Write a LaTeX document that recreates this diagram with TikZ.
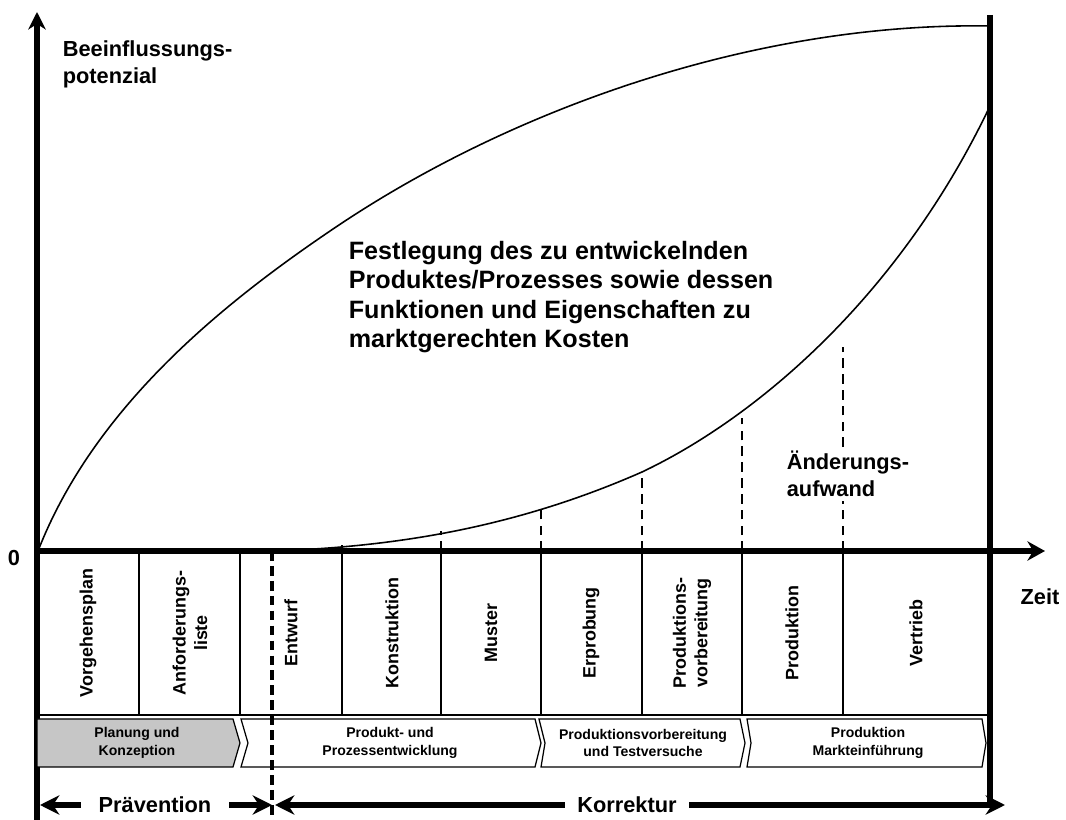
\documentclass[tikz,border=0pt]{standalone}
\usepackage{fontspec}
\setmainfont{Liberation Sans}
\usepackage{xcolor}
\usetikzlibrary{arrows.meta,positioning,calc}
\definecolor{planfill}{RGB}{198,198,198}

\begin{document}
\begin{tikzpicture}[x=0.02cm,y=-0.02cm,inner sep=2pt,
  axis/.style={line width=3pt},
  curve/.style={line width=0.9pt},
  cell/.style={line width=0.7pt},
  dashline/.style={line width=1.1pt,dash pattern=on 5.5pt off 3.5pt},
  cutline/.style={line width=1.8pt,dash pattern=on 5.5pt off 3pt},
  phase/.style={rotate=90,align=center,font=\bfseries\fontsize{10.2}{12.3}\selectfont},
  stage/.style={align=center,font=\bfseries\fontsize{8}{10}\selectfont},
  big/.style={font=\bfseries\fontsize{12.4}{15.5}\selectfont},
  span/.style={line width=3.4pt,-{Stealth[length=11pt,width=11pt]}}]

  \useasboundingbox (0,0) rectangle (1066,820);

  % axes and right border
  \draw[axis,-{Stealth[length=10pt,width=10pt]}] (37,820) -- (37,12);
  \draw[axis,-{Stealth[length=10pt,width=11pt]}] (37,551) -- (1045,551);
  \draw[axis] (990,15) -- (990,808);

  % curves
  \draw[curve] (38,551) .. controls (95,405) and (226,301) .. (336,227)
    .. controls (516,106) and (760,22) .. (990,26);
  \draw[curve] (272,551) .. controls (397,547) and (517,527) .. (642,472)
    .. controls (758,417) and (900,295) .. (990,106);

  % labels in the plot
  \node[big] (null) at (14,558) {0};
  \node[big,align=left,anchor=west] (beein) at (59,64) {Beeinflussungs-\\potenzial};
  \node[big] (zeit) at (1040,597) {Zeit};
  \node[align=left,anchor=west,font=\bfseries\fontsize{14.3}{16.7}\selectfont] (fest) at (345,297)
    {Festlegung des zu entwickelnden\\Produktes/Prozesses sowie dessen\\Funktionen und Eigenschaften zu\\marktgerechten Kosten};
  \node[big,align=left,anchor=west] (aend) at (783,474) {Änderungs-\\aufwand};

  % dashed markers under the lower curve
  \draw[cell,line width=1.1pt] (342,551) -- (342,545);
  \foreach \x/\y in {441/531,541/510,642/476,742/418}
    \draw[dashline] (\x,551) -- (\x,\y);
  \coordinate (mark) at (843,551);
  \draw[dashline] (mark) -- (aend.south -| mark);
  \draw[dashline] (aend.north -| mark) -- ++(0,-100);

  % phase cells
  \foreach \x in {139,240,342,441,541,642,742,843}
    \draw[cell] (\x,551) -- (\x,715);
  \draw[cell] (37,715) -- (990,715);
  \node[phase] (vorg) at (88,633) {Vorgehensplan};
  \node[phase] (anf) at (190,633) {Anforderungs-\\liste};
  \node[phase] (entw) at (291,633) {Entwurf};
  \node[phase] (konst) at (392,633) {Konstruktion};
  \node[phase] (must) at (491,633) {Muster};
  \node[phase] (erpr) at (591,633) {Erprobung};
  \node[phase] (pvorb) at (692,633) {Produktions-\\vorbereitung};
  \node[phase] (prod) at (792,633) {Produktion};
  \node[phase] (vert) at (916,633) {Vertrieb};

  % chevrons
  \draw[cell,fill=planfill] (37,719) -- (233,719) -- (240,743) -- (233,767) -- (37,767) -- cycle;
  \draw[cell] (241,719) -- (535,719) -- (541,743) -- (535,767) -- (241,767) -- (248,743) -- cycle;
  \draw[cell] (539,719) -- (740,719) -- (745,743) -- (740,767) -- (541,767) -- (545,743) -- cycle;
  \draw[cell] (747,719) -- (982,719) -- (986,743) -- (982,767) -- (747,767) -- (751,743) -- cycle;
  \node[stage] (plan) at (137,743) {Planung und\\Konzeption};
  \node[stage] (entwk) at (390,743) {Produkt- und\\Prozessentwicklung};
  \node[stage] (test) at (643,743) {Produktionsvorbereitung\\und Testversuche};
  \node[stage] (markt) at (868,743) {Produktion\\Markteinführung};

  % praevention / korrektur
  \draw[cutline] (272,551) -- (272,820);
  \node[big,inner xsep=10pt] (prae) at (155,805) {Prävention};
  \node[big,inner xsep=7pt] (korr) at (627,805) {Korrektur};
  \coordinate (pl) at (40,805);
  \coordinate (pr) at (272,805);
  \coordinate (kl) at (275,805);
  \coordinate (kr) at (1005,805);
  \draw[span] (prae) -- (pl);
  \draw[span] (prae) -- (pr);
  \draw[span] (korr) -- (kl);
  \draw[span] (korr) -- (kr);
\end{tikzpicture}
\end{document}
